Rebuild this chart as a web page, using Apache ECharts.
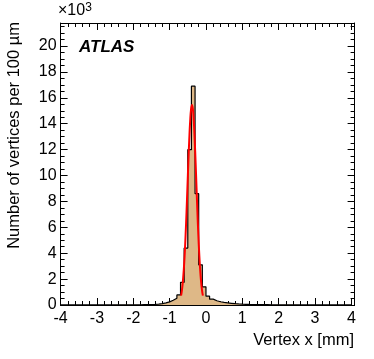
<!DOCTYPE html>
<html>
<head>
<meta charset="utf-8">
<script src="https://cdn.jsdelivr.net/npm/echarts@6/dist/echarts.min.js"></script>
<style>html,body{margin:0;padding:0;background:#fff;}#c{width:374px;height:359px;}</style>
</head>
<body>
<div id="c"></div>
<script>
// Bin edges of the histogram (mm), 100 µm bins
const binEdges = [-4.0,-3.9,-3.8,-3.7,-3.6,-3.5,-3.4,-3.3,-3.2,-3.1,-3.0,-2.9,-2.8,-2.7,-2.6,-2.5,-2.4,-2.3,-2.2,-2.1,
  -2.0,-1.9,-1.8,-1.7,-1.6,-1.5,-1.4,-1.3,-1.2,-1.1,-1.0,-0.9,-0.8,-0.7,-0.6,-0.5,-0.4,-0.3,-0.2,-0.1,
  0.0,0.1,0.2,0.3,0.4,0.5,0.6,0.7,0.8,0.9,1.0,1.1,1.2,1.3,1.4,1.5,1.6,1.7,1.8,1.9,
  2.0,2.1,2.2,2.3,2.4,2.5,2.6,2.7,2.8,2.9,3.0,3.1,3.2,3.3,3.4,3.5,3.6,3.7,3.8,3.9,4.0];
// Vertices per bin (x10^3)
const binCounts = [0.004,0.004,0.005,0.005,0.005,0.006,0.006,0.006,0.007,0.007,0.008,0.008,0.009,0.009,0.010,0.011,0.012,0.013,0.014,0.015,0.017,0.019,0.022,0.026,
  0.032,0.045,0.065,0.1,0.16,0.24,0.37,0.52,0.78,1.75,4.4,12.0,16.9,8.6,3.1,1.4,0.68,0.45,0.33,0.25,0.2,0.16,0.13,0.1,0.08,0.065,0.055,0.046,0.04,0.034,0.03,0.026,0.023,0.02,0.018,0.016,
  0.014,0.013,0.012,0.011,0.010,0.009,0.009,0.008,0.008,0.007,0.007,0.006,0.006,0.006,0.005,0.005,0.005,0.004,0.004,0.004];
// Gaussian fit curve
const fitX = [-0.685,-0.66,-0.635,-0.61,-0.585,-0.56,-0.535,-0.51,-0.485,-0.46,-0.435,-0.41,-0.385,-0.36,-0.335,-0.31,-0.285,-0.26,-0.235,-0.21,-0.185,-0.16,-0.135,-0.11,-0.085];
const fitY = [0.72,1.17,1.83,2.74,3.94,5.43,7.17,9.07,10.99,12.75,14.19,15.12,15.45,15.12,14.19,12.75,10.99,9.07,7.17,5.43,3.94,2.74,1.83,1.17,0.72];
const xTickLabels = ['-4','-3','-2','-1','0','1','2','3','4'];
const yTickLabels = ['0','2','4','6','8','10','12','14','16','18','20'];

const FONT = 'Liberation Sans, Arial, Helvetica, sans-serif';
const XMIN = -4, XMAX = 4.09, YMIN = 0, YMAX = 21.78;
const gridRect = {left: 60.6, top: 23, width: 294, height: 282};

const histData = binEdges.map((e, i) => [e, i < binCounts.length ? binCounts[i] : binCounts[binCounts.length - 1]]);
const fitData = fitX.map((x, i) => [x, fitY[i]]);

function axisX(grid, pos, interval, len, labels, line) {
  return {
    type: 'value', gridIndex: grid, position: pos, min: XMIN, max: XMAX, interval: interval,
    axisLine: {show: line, onZero: false, lineStyle: {color: '#000', width: 1}},
    axisTick: {show: true, inside: true, length: len, lineStyle: {color: '#000', width: 1}},
    splitLine: {show: false},
    axisLabel: labels ? {
      show: true, showMaxLabel: false, margin: 6, color: '#000', fontSize: 16, fontFamily: FONT,
      formatter: v => { const s = String(Math.round(v)); return (Math.abs(v - Math.round(v)) < 1e-6 && xTickLabels.includes(s)) ? s : ''; }
    } : {show: false}
  };
}
function axisY(grid, pos, interval, len, labels, line) {
  return {
    type: 'value', gridIndex: grid, position: pos, min: YMIN, max: YMAX, interval: interval,
    axisLine: {show: line, onZero: false, lineStyle: {color: '#000', width: 1}},
    axisTick: {show: true, inside: true, length: len, lineStyle: {color: '#000', width: 1}},
    splitLine: {show: false},
    axisLabel: labels ? {
      show: true, showMaxLabel: false, margin: 4, color: '#000', fontSize: 16, fontFamily: FONT,
      formatter: v => { const s = String(Math.round(v)); return (Math.abs(v - Math.round(v)) < 1e-6 && yTickLabels.includes(s)) ? s : ''; }
    } : {show: false}
  };
}

const chart = echarts.init(document.getElementById('c'), null, {renderer: 'canvas'});
chart.setOption({
  animation: false,
  backgroundColor: '#fff',
  grid: [Object.assign({}, gridRect), Object.assign({}, gridRect), Object.assign({}, gridRect), Object.assign({}, gridRect)],
  xAxis: [
    axisX(0, 'bottom', 1, 7, true, true),
    axisX(1, 'bottom', 0.2, 4, false, false),
    axisX(2, 'top', 1, 7, false, true),
    axisX(3, 'top', 0.2, 4, false, false)
  ],
  yAxis: [
    axisY(0, 'left', 2, 7, true, true),
    axisY(1, 'left', 0.5, 4, false, false),
    axisY(2, 'right', 2, 7, false, true),
    axisY(3, 'right', 0.5, 4, false, false)
  ],
  series: [
    {
      type: 'line', xAxisIndex: 0, yAxisIndex: 0, data: histData, step: 'end',
      showSymbol: false, symbol: 'none',
      lineStyle: {color: '#000', width: 1.2},
      areaStyle: {color: '#deb887', opacity: 1, origin: 'start'},
      z: 2
    },
    {
      type: 'line', xAxisIndex: 0, yAxisIndex: 0, data: fitData, smooth: true,
      showSymbol: false, symbol: 'none',
      lineStyle: {color: '#ff0000', width: 2},
      z: 3
    }
  ],
  graphic: [
    {type: 'text', left: 79, top: 39, style: {text: 'ATLAS', font: 'italic bold 17px ' + FONT, fill: '#000'}},
    {type: 'text', left: 58, top: 2, style: {
      text: '×10{s|3}', font: '16px ' + FONT, fill: '#000',
      rich: {s: {fontSize: 12, fontFamily: FONT, verticalAlign: 'top', padding: [0, 0, 6, 0]}}
    }},
    {type: 'text', x: 354, y: 340, style: {text: 'Vertex x [mm]', font: '16.5px ' + FONT, fill: '#000', align: 'right', verticalAlign: 'middle'}},
    {type: 'text', x: 14, y: 22, rotation: Math.PI / 2, style: {text: 'Number of vertices per 100 µm', font: '16.5px ' + FONT, fill: '#000', align: 'right', verticalAlign: 'middle'}}
  ]
});
</script>
</body>
</html>
